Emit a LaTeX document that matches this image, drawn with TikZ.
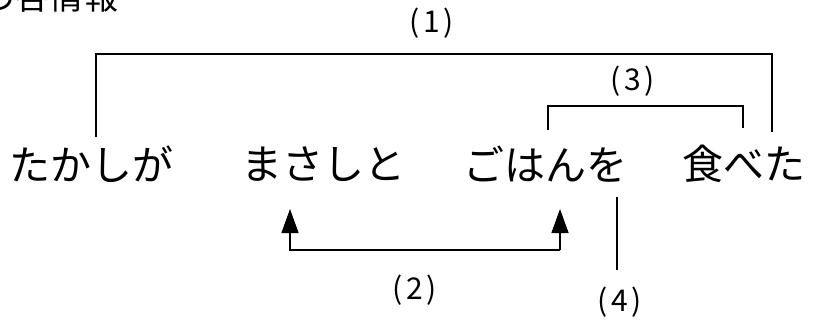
\documentclass[tikz,border=0pt]{standalone}
\usepackage{fontspec}
\setmainfont{Noto Sans CJK JP}
\newfontfamily\labfont[LetterSpace=12]{Noto Sans CJK JP}
\usetikzlibrary{arrows.meta}
\tikzset{
  word/.style={inner sep=0pt, font=\fontsize{41}{44}\selectfont},
  toptext/.style={inner sep=0pt, font=\fontsize{34}{36}\selectfont},
  lab/.style={inner sep=0pt, font=\labfont\fontsize{30}{32}\selectfont},
  conn/.style={line width=1.3pt, black},
  arr/.style={conn, -{Triangle[length=24pt,width=17pt]}, shorten >=0pt},
}
\begin{document}
\begin{tikzpicture}[x=1pt,y=-1pt]
\useasboundingbox (0,0) rectangle (813,323);
\clip (0,0) rectangle (813,323);
\node[toptext] (top) at (50,-3) {の各情報};
\node[word] (w1) at (91.5,164) {たかしが};
\node[word] (w2) at (323,164) {まさしと};
\node[word] (w3) at (545,164) {ごはんを};
\node[word] (w4) at (744,164) {食べた};
\node[lab] (l1) at (432,23) {(1)};
\node[lab] (l3) at (633,81) {(3)};
\node[lab] (l2) at (415,290) {(2)};
\node[lab] (l4) at (620,302) {(4)};
% bracket (1)
\coordinate (a1) at (96,137);
\coordinate (b1) at (772,132);
\draw[conn] (a1) -- (96,54) -- (772,54) -- (b1);
% bracket (3)
\coordinate (a3) at (548,130);
\coordinate (b3) at (743,128);
\draw[conn] (a3) -- (548,106) -- (743,106) -- (b3);
% arrows (2)
\coordinate (t2a) at (290,209);
\coordinate (t2b) at (560,209);
\draw[arr] (560,250) -- (290,250) -- (t2a);
\draw[arr] (560,250) -- (t2b);
% line (4)
\coordinate (a4) at (617,197);
\coordinate (b4) at (617,270);
\draw[conn] (a4) -- (b4);
\end{tikzpicture}
\end{document}
